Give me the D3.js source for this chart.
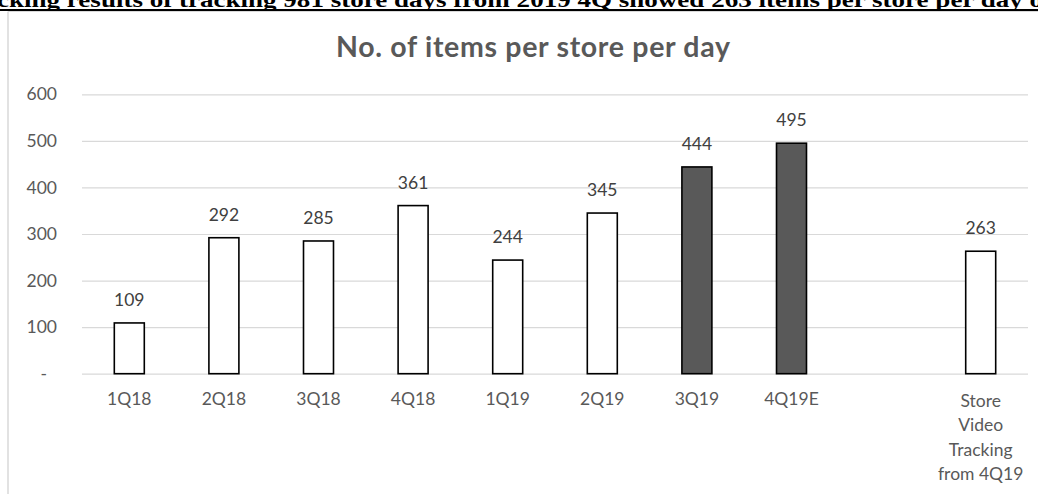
<!DOCTYPE html>
<html>
<head>
<meta charset="utf-8">
<script src="https://cdn.jsdelivr.net/npm/d3@7"></script>
<style>
  html, body { margin: 0; padding: 0; background: #fff; }
  svg { display: block; }
</style>
</head>
<body>
<svg id="chart" width="1038" height="494"></svg>
<script>
// Quarterly items per store per day, plus the store video tracking figure
const categories = ["1Q18", "2Q18", "3Q18", "4Q18", "1Q19", "2Q19", "3Q19", "4Q19E", "", "Store Video Tracking from 4Q19"];
const itemsPerDay = [109, 292, 285, 361, 244, 345, 444, 495, null, 263];
const highlighted = [false, false, false, false, false, false, true, true, false, false];
const yTicks = [0, 100, 200, 300, 400, 500, 600];
const headline = "cking results of tracking 981 store days from 2019 4Q showed 263 items per store per day o";
const chartTitle = "No. of items per store per day";

const svg = d3.select("#chart");
const W = 1038, H = 494;
const sans = "Lato, 'Open Sans', sans-serif";

// Heading sentence running across the top, with its rule
svg.append("text")
  .attr("x", -3).attr("y", 7)
  .attr("font-family", "'Liberation Serif', 'Times New Roman', serif")
  .attr("font-weight", "bold")
  .attr("font-size", 21)
  .attr("textLength", 1046)
  .attr("lengthAdjust", "spacingAndGlyphs")
  .attr("fill", "#000")
  .text(headline);
svg.append("rect").attr("x", 0).attr("y", 9).attr("width", W).attr("height", 2).attr("fill", "#000");

// Chart frame
svg.append("line").attr("x1", 8).attr("x2", W).attr("y1", 11.5).attr("y2", 11.5)
  .attr("stroke", "#d9d9d9").attr("stroke-width", 1);
svg.append("line").attr("x1", 8).attr("x2", 8).attr("y1", 11.5).attr("y2", H)
  .attr("stroke", "#d9d9d9").attr("stroke-width", 1.5);

// Scales
const x = d3.scaleBand()
  .domain(categories.map((c, i) => i))
  .range([82, 1028])
  .paddingInner(0.683)
  .paddingOuter(0.3415);
const y = d3.scaleLinear().domain([0, 600]).range([373.7, 94.3]);

// Title
svg.append("text")
  .attr("x", 533).attr("y", 57)
  .attr("text-anchor", "middle")
  .attr("font-family", sans)
  .attr("font-weight", "bold")
  .attr("font-size", 28.5)
  .attr("textLength", 394)
  .attr("lengthAdjust", "spacing")
  .attr("fill", "#595959")
  .text(chartTitle);

// Y axis: gridlines and labels
const yAxis = svg.append("g")
  .attr("transform", "translate(82,0)")
  .call(d3.axisLeft(y)
    .tickValues(yTicks)
    .tickSize(-(1028 - 82))
    .tickPadding(25)
    .tickFormat(d => d === 0 ? "-" : d3.format("d")(d)));
yAxis.select(".domain").remove();
yAxis.selectAll(".tick line").attr("stroke", "#d9d9d9").attr("stroke-width", 1.2);
yAxis.selectAll(".tick text")
  .attr("font-family", sans)
  .attr("font-size", 17.5)
  .attr("fill", "#595959")
  .attr("dx", d => d === 0 ? -10 : 0);

// Bars
const barData = itemsPerDay.map((v, i) => ({ i, v, hi: highlighted[i] })).filter(d => d.v != null);
svg.append("g").selectAll("rect")
  .data(barData)
  .join("rect")
  .attr("x", d => x(d.i))
  .attr("y", d => y(d.v))
  .attr("width", x.bandwidth())
  .attr("height", d => y(0) - y(d.v))
  .attr("fill", d => d.hi ? "#595959" : "#fff")
  .attr("stroke", "#000")
  .attr("stroke-width", 1.6);

// Value labels
svg.append("g").selectAll("text")
  .data(barData)
  .join("text")
  .attr("x", d => x(d.i) + x.bandwidth() / 2)
  .attr("y", d => y(d.v) - 17)
  .attr("text-anchor", "middle")
  .attr("font-family", sans)
  .attr("font-size", 17.5)
  .attr("fill", "#404040")
  .text(d => d.v);

// Category labels (wrapped for the long one)
const wrapLines = {
  "Store Video Tracking from 4Q19": ["Store", "Video", "Tracking", "from 4Q19"]
};
const catG = svg.append("g");
categories.forEach((c, i) => {
  if (!c) return;
  const lines = wrapLines[c] || [c];
  const t = catG.append("text")
    .attr("text-anchor", "middle")
    .attr("font-family", sans)
    .attr("font-size", 17.5)
    .attr("fill", "#595959");
  lines.forEach((ln, k) => {
    t.append("tspan")
      .attr("x", x(i) + x.bandwidth() / 2)
      .attr("y", (lines.length > 1 ? 406.5 : 404.5) + k * 24.6)
      .text(ln);
  });
});
</script>
</body>
</html>
